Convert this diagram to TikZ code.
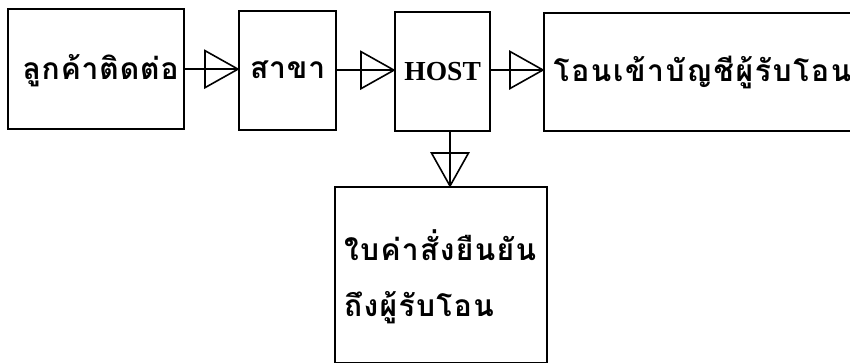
\documentclass[tikz,border=0pt]{standalone}
\usepackage{fontspec}
\setmainfont{Liberation Serif}
\newfontfamily\thai[Script=Thai, LetterSpace=3]{Loma}
\usetikzlibrary{calc}
\tikzset{
  box/.style={draw, line width=2.3pt, inner sep=0pt, anchor=north west},
  conn/.style={line width=1.6pt},
  thaitxt/.style={font=\thai\bfseries\fontsize{30}{56}\selectfont},
}
\newcommand\opentriR[1]{\draw[conn,line join=miter] ($(#1)+(-33,-18.5)$) -- (#1) -- ($(#1)+(-33,18.5)$) -- cycle;}
\newcommand\opentriD[1]{\draw[conn,line join=miter] ($(#1)+(-18.5,-33)$) -- (#1) -- ($(#1)+(18.5,-33)$) -- cycle;}
\begin{document}
\begin{tikzpicture}[x=1pt,y=-1pt]
\useasboundingbox (0,0) rectangle (850,362);
\path[fill=white] (0,0) rectangle (850,362);
\begin{scope}
\clip (0,0) rectangle (850,362);
\node[box, minimum width=176pt, minimum height=120pt] (b1) at (7,8) {};
\node[box, minimum width=97pt, minimum height=119pt] (b2) at (238,9.5) {};
\node[box, minimum width=95pt, minimum height=119pt] (b3) at (394,10.5) {};
\node[box, minimum width=320pt, minimum height=118pt] (b4) at (543,12) {};
\node[box, minimum width=212pt, minimum height=176pt] (b5) at (334,186) {};
\end{scope}
\node[thaitxt, anchor=west] (t1) at ($(b1.west)+(12,1)$) {ลูกค้าติดต่อ};
\node[thaitxt] (t2) at ($(b2.center)+(0,0)$) {สาขา};
\node[font=\bfseries\fontsize{27.5}{30}\selectfont] (t3) at ($(b3.center)+(0,0.5)$) {HOST};
\node[thaitxt, anchor=west] (t4) at ($(b4.west)+(7,0)$) {\addfontfeature{LetterSpace=5.5}โอนเข้าบัญชีผู้รับโอน};
\node[thaitxt, anchor=north west, align=left, inner sep=0pt] (t5) at ($(b5.north west)+(10,43)$) {\addfontfeature{LetterSpace=4.5}ใบค่าสั่งยืนยัน\\\addfontfeature{LetterSpace=4.5}ถึงผู้รับโอน};
% connectors
\coordinate (e1) at (b1.east -| b2.west);
\draw[conn] (b1.east) -- (e1);
\opentriR{e1}
\coordinate (e2) at (b2.east -| b3.west);
\draw[conn] (b2.east) -- (e2);
\opentriR{e2}
\coordinate (s3) at (b3.east |- 0,70);
\coordinate (e3) at (b4.west |- 0,70);
\draw[conn] (s3) -- (e3);
\opentriR{e3}
\coordinate (s4) at (b3.south -| 450,0);
\coordinate (e4) at (b5.north -| 450,0);
\draw[conn] (s4) -- (e4);
\opentriD{e4}
\end{tikzpicture}
\end{document}
